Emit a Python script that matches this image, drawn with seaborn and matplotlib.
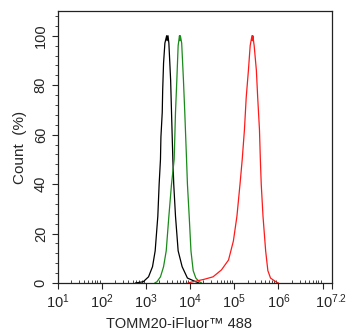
import matplotlib
matplotlib.use("Agg")
import matplotlib.pyplot as plt
from matplotlib.ticker import MultipleLocator, LogLocator, NullFormatter
import seaborn as sns
import pandas as pd
import numpy as np

# log10 of fluorescence intensity, and count (%)
black_log = [2.76, 2.94, 3.06, 3.15, 3.21, 3.27, 3.30, 3.33, 3.34, 3.37, 3.38, 3.40, 3.43,
             3.47, 3.48, 3.50, 3.52, 3.56, 3.58, 3.61, 3.63, 3.67, 3.73, 3.82, 3.94, 4.13, 4.20]
black_cnt = [0, 0.5, 2.5, 6.6, 13, 27, 40, 50, 59, 69, 78, 89, 97,
             100, 98, 100, 97, 82, 69, 50, 40, 27, 13, 6.6, 2, 0.5, 0]

green_log = [3.20, 3.25, 3.33, 3.40, 3.46, 3.52, 3.58, 3.64, 3.67, 3.70, 3.73, 3.76, 3.77,
             3.78, 3.81, 3.85, 3.88, 3.92, 3.94, 3.98, 4.02, 4.07, 4.13, 4.21, 4.26]
green_cnt = [0, 0.5, 2.5, 6.6, 13, 27, 40, 50, 69, 82, 96, 100, 98,
             100, 97, 82, 69, 50, 40, 27, 13, 5, 2, 0.5, 0]

red_log = [3.95, 4.06, 4.17, 4.32, 4.52, 4.71, 4.87, 4.98, 5.06, 5.13, 5.18, 5.23, 5.27,
           5.32, 5.36, 5.40, 5.41, 5.42, 5.45, 5.50, 5.53, 5.57, 5.59, 5.61, 5.65, 5.71,
           5.76, 5.82, 5.94, 6.00]
red_cnt = [0, 0.5, 0.9, 1.5, 2.5, 5.3, 9.3, 17, 27, 40, 50, 62, 75,
           86, 96, 100, 98, 100, 96, 86, 75, 62, 50, 40, 27, 13,
           5, 2, 0.5, 0]

xtick_exp = [1, 2, 3, 4, 5, 6, 7, 7.2]
xtick_lbl = ["$10^{1}$", "$10^{2}$", "$10^{3}$", "$10^{4}$", "$10^{5}$", "$10^{6}$", "", "$10^{7.2}$"]

frames = []
for name, xs, ys in [("isotype", black_log, black_cnt),
                     ("unstained", green_log, green_cnt),
                     ("TOMM20", red_log, red_cnt)]:
    frames.append(pd.DataFrame({"x": 10 ** np.array(xs), "y": ys, "s": name}))
df = pd.concat(frames, ignore_index=True)

sns.set_style("ticks")
plt.rcParams["font.family"] = ["Liberation Sans", "DejaVu Sans"]
plt.rcParams["mathtext.fontset"] = "custom"
plt.rcParams["mathtext.rm"] = "Liberation Sans"
plt.rcParams["mathtext.it"] = "Liberation Sans"

fig = plt.figure(figsize=(3.49, 3.31), dpi=100)
ax = fig.add_axes([57.5 / 349, (331 - 283) / 331, 274 / 349, 272 / 331])

sns.lineplot(data=df, x="x", y="y", hue="s", sort=False, estimator=None,
             palette={"isotype": "black", "unstained": "#1a8a1a", "TOMM20": "#ff1a1a"},
             linewidth=0.9, legend=False, ax=ax)

ax.set_xscale("log")
ax.set_xlim(10 ** 1, 10 ** 7.2)
ax.set_ylim(0, 110)
ax.set_xticks([10 ** e for e in xtick_exp])
ax.set_xticklabels(xtick_lbl)
ax.xaxis.set_minor_locator(LogLocator(base=10, subs=np.arange(2, 10), numticks=20))
ax.xaxis.set_minor_formatter(NullFormatter())
ax.set_yticks([0, 20, 40, 60, 80, 100])
ax.yaxis.set_minor_locator(MultipleLocator(4))

for s in ax.spines.values():
    s.set_linewidth(0.9)
    s.set_color("#222222")
ax.tick_params(axis="both", which="major", length=4, width=0.8, labelsize=10.5, pad=3)
ax.tick_params(axis="x", which="minor", length=2, width=0.6, direction="in")
ax.tick_params(axis="y", which="minor", length=2, width=0.6)
for lbl in ax.get_yticklabels():
    lbl.set_rotation(90)
    lbl.set_va("center")

ax.set_ylabel("Count  (%)", fontsize=11, labelpad=6)
ax.set_xlabel("TOMM20-iFluor™ 488", fontsize=10.5, labelpad=4)
ax.xaxis.set_label_coords(0.443, -0.125)
ax.yaxis.set_label_coords(-0.113, 0.5)

fig.savefig("out.png", dpi=100)
